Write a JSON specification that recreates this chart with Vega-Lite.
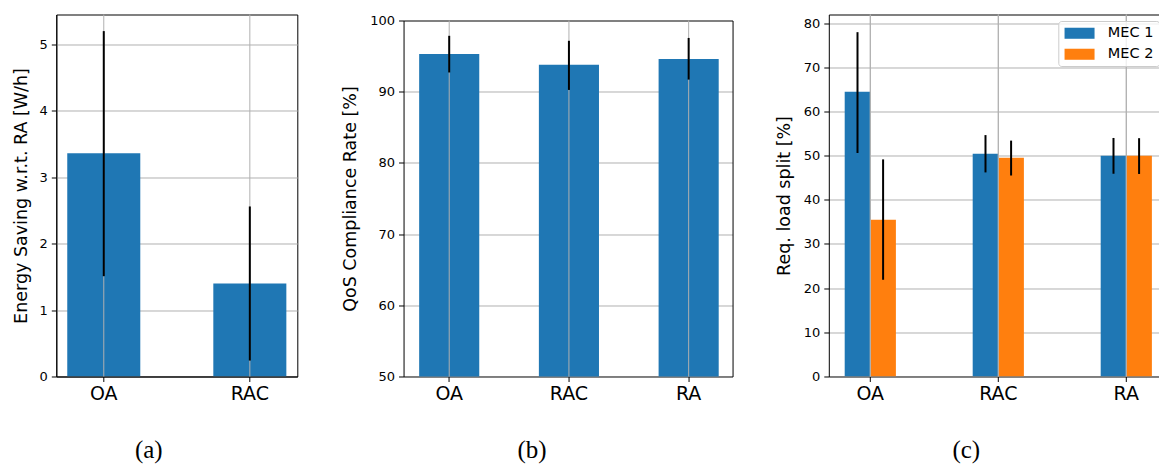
{
  "$schema": "https://vega.github.io/schema/vega-lite/v6.json",
  "background": "white",
  "padding": {"left": 12.3, "top": 13.5, "right": 0, "bottom": 0},
  "spacing": 42.25,
  "config": {
    "font": "DejaVu Sans",
    "view": {"stroke": "black", "strokeWidth": 1},
    "axis": {
      "domainColor": "black",
      "tickColor": "black",
      "labelColor": "black",
      "titleColor": "black",
      "tickSize": 5,
      "gridColor": "#b0b0b0",
      "gridWidth": 1,
      "labelFont": "DejaVu Sans",
      "titleFont": "DejaVu Sans",
      "titleFontWeight": "normal",
      "zindex": 1
    },
    "axisX": {
      "labelFontSize": 19,
      "labelAngle": 0,
      "labelPadding": 3,
      "grid": false,
      "titleFont": "Liberation Serif",
      "titleFontSize": 25,
      "titleBaseline": "alphabetic",
      "titleAlign": "center",
      "titleY": 81.5
    },
    "axisY": {
      "labelFontSize": 13,
      "labelPadding": 4,
      "titleFontSize": 17.5,
      "titleBaseline": "middle",
      "format": "d",
      "grid": true
    }
  },
  "datasets": {
    "energy": [
      {"method": "OA", "saving": 3.36, "lo": 1.51, "hi": 5.2},
      {"method": "RAC", "saving": 1.4, "lo": 0.24, "hi": 2.56}
    ],
    "qos": [
      {"method": "OA", "rate": 95.3, "lo": 92.7, "hi": 97.85},
      {"method": "RAC", "rate": 93.8, "lo": 90.25, "hi": 97.15},
      {"method": "RA", "rate": 94.6, "lo": 91.7, "hi": 97.55}
    ],
    "split": [
      {"method": "OA", "mec": "MEC 1", "share": 64.45, "lo": 50.6, "hi": 77.95},
      {"method": "OA", "mec": "MEC 2", "share": 35.5, "lo": 21.9, "hi": 49.15},
      {"method": "RAC", "mec": "MEC 1", "share": 50.4, "lo": 46.2, "hi": 54.65},
      {"method": "RAC", "mec": "MEC 2", "share": 49.5, "lo": 45.5, "hi": 53.4},
      {"method": "RA", "mec": "MEC 1", "share": 50.0, "lo": 45.9, "hi": 54.0},
      {"method": "RA", "mec": "MEC 2", "share": 50.0, "lo": 45.85, "hi": 53.95}
    ]
  },
  "hconcat": [
    {
      "width": 241,
      "height": 362,
      "data": {"name": "energy"},
      "layer": [
        {
          "mark": {"type": "bar", "color": "#1f77b4", "clip": true},
          "encoding": {
            "x": {"field": "method", "type": "nominal", "sort": null,
                  "scale": {"paddingInner": 0.5, "paddingOuter": 0.075},
                  "axis": {"title": "(a)", "titleX": 92}},
            "y": {"field": "saving", "type": "quantitative",
                  "scale": {"domain": [0, 5.45], "nice": false, "zero": false},
                  "title": "Energy Saving w.r.t. RA [W/h]",
                  "axis": {"values": [0, 1, 2, 3, 4, 5], "titleX": -34.5,
                           "gridOpacity": {"condition": {"test": "datum.value === 0", "value": 0}, "value": 1}}}
          }
        },
        {
          "mark": {"type": "rule", "color": "#b0b0b0", "strokeWidth": 1},
          "encoding": {"x": {"field": "method", "type": "nominal", "sort": null}}
        },
        {
          "mark": {"type": "rule", "color": "black", "strokeWidth": 2},
          "encoding": {
            "x": {"field": "method", "type": "nominal", "sort": null},
            "y": {"field": "lo", "type": "quantitative",
                  "title": "Energy Saving w.r.t. RA [W/h]",
                  "axis": {"values": [0, 1, 2, 3, 4, 5], "titleX": -34.5,
                           "gridOpacity": {"condition": {"test": "datum.value === 0", "value": 0}, "value": 1}}},
            "y2": {"field": "hi"}
          }
        }
      ]
    },
    {
      "width": 329,
      "height": 362,
      "view": {"stroke": null},
      "data": {"name": "qos"},
      "resolve": {"axis": {"x": "independent", "y": "independent"}},
      "layer": [
        {
          "mark": {"type": "bar", "color": "#1f77b4", "clip": true},
          "encoding": {
            "x": {"field": "method", "type": "nominal", "sort": null,
                  "scale": {"paddingInner": 0.498, "paddingOuter": 0.123, "align": 0.53},
                  "axis": {"title": "(b)", "titleX": 128}},
            "y": {"field": "rate", "type": "quantitative",
                  "scale": {"domain": [50, 100], "range": [362, 6], "nice": false, "zero": false},
                  "title": "QoS Compliance Rate [%]",
                  "axis": {"values": [50, 60, 70, 80, 90, 100], "titleX": -53.5,
                           "gridOpacity": {"condition": {"test": "datum.value === 50 || datum.value === 100", "value": 0}, "value": 1}}}
          }
        },
        {
          "mark": {"type": "rule", "color": "#b0b0b0", "strokeWidth": 1},
          "encoding": {
            "x": {"field": "method", "type": "nominal", "sort": null,
                  "axis": {"orient": "top", "offset": -6, "labels": false, "ticks": false, "title": null, "domain": true}},
            "y": {"datum": 50, "axis": null},
            "y2": {"datum": 100}
          }
        },
        {
          "mark": {"type": "rule", "color": "black", "strokeWidth": 2},
          "encoding": {
            "x": {"field": "method", "type": "nominal", "sort": null, "axis": null},
            "y": {"field": "lo", "type": "quantitative",
                  "axis": {"orient": "right", "labels": false, "ticks": false, "grid": false, "title": null, "domain": true}},
            "y2": {"field": "hi"}
          }
        }
      ]
    },
    {
      "width": 331,
      "height": 362,
      "view": {"stroke": null},
      "data": {"name": "split"},
      "resolve": {"axis": {"x": "independent"}},
      "layer": [
        {
          "mark": {"type": "bar", "clip": true},
          "encoding": {
            "x": {"field": "method", "type": "nominal", "sort": null,
                  "scale": {"paddingInner": 0.6, "paddingOuter": 0.093, "align": 0.668},
                  "axis": {"title": "(c)", "titleX": 137}},
            "xOffset": {"field": "mec", "type": "nominal", "scale": {"paddingInner": 0, "paddingOuter": 0}},
            "y": {"field": "share", "type": "quantitative",
                  "scale": {"domain": [0, 81.95], "nice": false, "zero": false},
                  "title": "Req. load split [%]",
                  "axis": {"values": [0, 10, 20, 30, 40, 50, 60, 70, 80], "titleX": -44.5,
                           "gridOpacity": {"condition": {"test": "datum.value === 0", "value": 0}, "value": 1}}},
            "color": {"field": "mec", "type": "nominal",
                      "scale": {"range": ["#1f77b4", "#ff7f0e"]},
                      "legend": {
                        "title": null,
                        "orient": "none",
                        "legendX": 1002,
                        "legendY": 6.5,
                        "symbolType": "M-2.5,-0.92H2.5V0.92H-2.5Z",
                        "symbolSize": 144,
                        "symbolOffset": 9,
                        "symbolStrokeWidth": 0,
                        "symbolOpacity": 1,
                        "labelFont": "DejaVu Sans",
                        "labelFontSize": 14.5,
                        "labelColor": "black",
                        "labelOffset": 21,
                        "rowPadding": 6,
                        "padding": 5,
                        "strokeColor": "#cccccc",
                        "fillColor": "rgba(255,255,255,0.8)",
                        "cornerRadius": 3
                      }}
          }
        },
        {
          "mark": {"type": "rule", "color": "#b0b0b0", "strokeWidth": 1},
          "encoding": {
            "x": {"field": "method", "type": "nominal", "sort": null,
                  "axis": {"orient": "top", "labels": false, "ticks": false, "title": null, "domain": true}}
          }
        },
        {
          "mark": {"type": "rule", "color": "black", "strokeWidth": 2},
          "encoding": {
            "x": {"field": "method", "type": "nominal", "sort": null, "axis": null},
            "xOffset": {"field": "mec", "type": "nominal"},
            "y": {"field": "lo", "type": "quantitative",
                  "title": "Req. load split [%]",
                  "axis": {"values": [0, 10, 20, 30, 40, 50, 60, 70, 80], "titleX": -44.5,
                           "gridOpacity": {"condition": {"test": "datum.value === 0", "value": 0}, "value": 1}}},
            "y2": {"field": "hi"}
          }
        }
      ]
    }
  ]
}
